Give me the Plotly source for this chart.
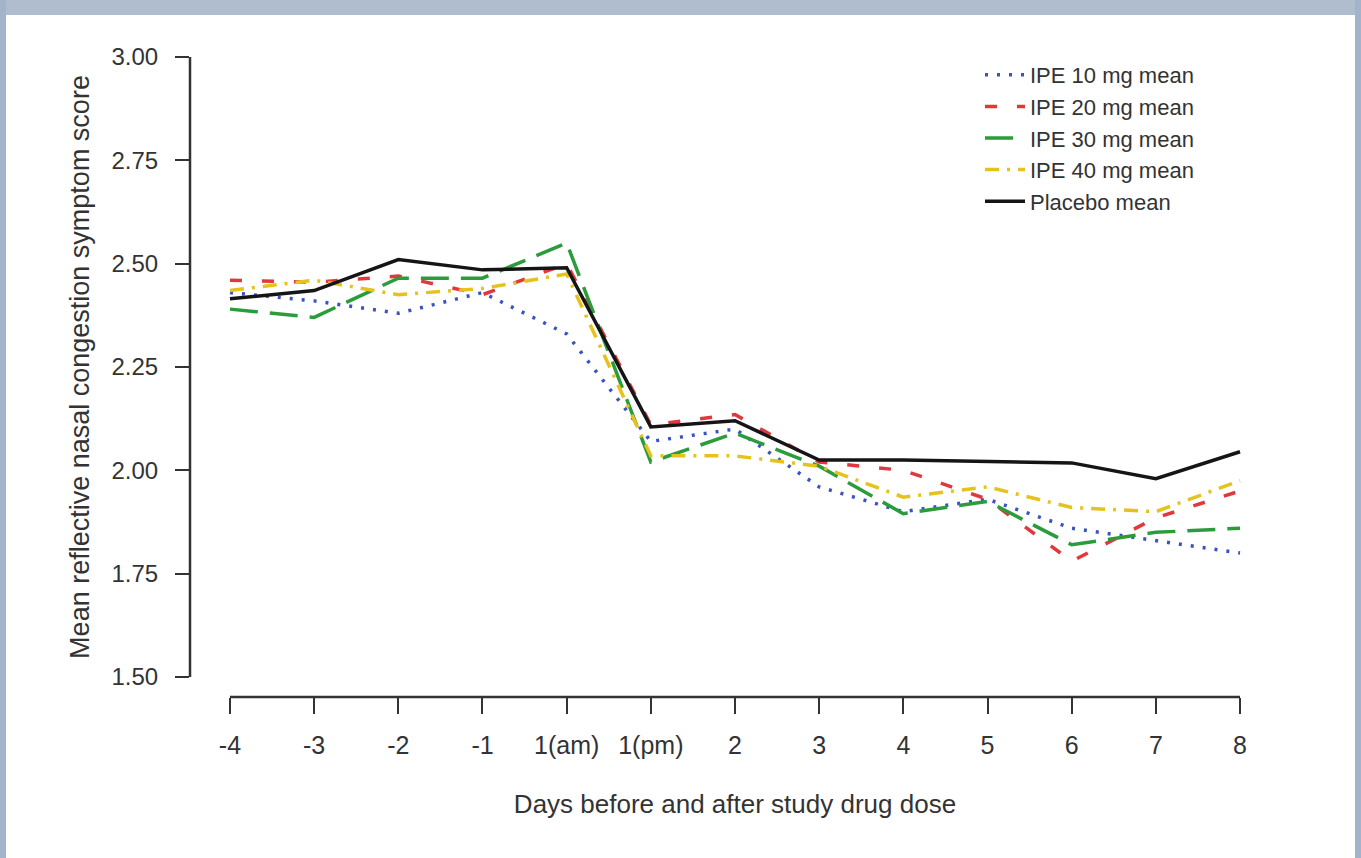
import plotly.graph_objects as go

# ---- data ----
days = ["-4", "-3", "-2", "-1", "1(am)", "1(pm)", "2", "3", "4", "5", "6", "7", "8"]
ipe10 = [2.43, 2.41, 2.38, 2.43, 2.33, 2.07, 2.10, 1.96, 1.90, 1.93, 1.86, 1.83, 1.80]
ipe20 = [2.46, 2.455, 2.47, 2.425, 2.50, 2.11, 2.135, 2.02, 2.00, 1.93, 1.78, 1.885, 1.95]
ipe30 = [2.39, 2.37, 2.465, 2.465, 2.55, 2.02, 2.09, 2.01, 1.895, 1.925, 1.82, 1.85, 1.86]
ipe40 = [2.435, 2.46, 2.425, 2.44, 2.475, 2.035, 2.035, 2.01, 1.935, 1.96, 1.91, 1.90, 1.975]
placebo = [2.415, 2.435, 2.51, 2.485, 2.49, 2.105, 2.12, 2.025, 2.025, 2.022, 2.018, 1.98, 2.045]
y_ticks = [1.50, 1.75, 2.00, 2.25, 2.50, 2.75, 3.00]
y_ticktext = ["1.50", "1.75", "2.00", "2.25", "2.50", "2.75", "3.00"]

series = [
    ("IPE 10 mg mean", ipe10, "#3a52c4", "3px,9px"),
    ("IPE 20 mg mean", ipe20, "#e0383c", "12px,20px"),
    ("IPE 30 mg mean", ipe30, "#2b9c3c", "28px,12px"),
    ("IPE 40 mg mean", ipe40, "#e6c31c", "14px,8px,3px,8px"),
    ("Placebo mean", placebo, "#151515", "solid"),
]

# ---- layout geometry ----
W, H = 1361, 858
L, R, T, B = 190, 81, 37, 161
pw, ph = W - L - R, H - T - B
y_pad = 20 * (y_ticks[-1] - y_ticks[0]) / 620.0


def px(x):
    return (x - L) / pw


def py(y):
    return (H - B - y) / ph


FONT = "Liberation Sans, Arial, sans-serif"
TXT = "#333333"

fig = go.Figure()
for name, vals, color, dash in series:
    fig.add_trace(go.Scatter(
        x=days, y=vals, mode="lines", name=name,
        line=dict(color=color, width=3.5, dash=dash),
    ))

# R-style detached axis lines
fig.add_shape(type="line", xref="paper", yref="y", x0=0, x1=0,
              y0=y_ticks[0], y1=y_ticks[-1], line=dict(color="#333333", width=2.5))
fig.add_shape(type="line", xref="x", yref="paper", x0=0, x1=len(days) - 1,
              y0=0, y1=0, line=dict(color="#333333", width=2.5))

# frame strips (blue-grey border of the picture)
fig.add_shape(type="rect", xref="paper", yref="paper", x0=px(0), x1=px(W),
              y0=py(15), y1=py(0), fillcolor="#b0bdcf", line=dict(width=0), layer="below")
fig.add_shape(type="rect", xref="paper", yref="paper", x0=px(0), x1=px(6),
              y0=py(H), y1=py(0), fillcolor="#a3b3c9", line=dict(width=0), layer="below")
fig.add_shape(type="rect", xref="paper", yref="paper", x0=px(W - 6), x1=px(W),
              y0=py(H), y1=py(0), fillcolor="#a3b3c9", line=dict(width=0), layer="below")

fig.update_layout(
    width=W, height=H,
    margin=dict(l=L, r=R, t=T, b=B, autoexpand=False),
    paper_bgcolor="white", plot_bgcolor="white",
    font=dict(family=FONT, color=TXT, size=24),
    showlegend=True,
    legend=dict(
        x=px(980), y=py(54), xanchor="left", yanchor="top",
        bgcolor="rgba(0,0,0,0)", font=dict(size=22, color=TXT, family=FONT),
        itemwidth=40, tracegroupgap=0,
    ),
    xaxis=dict(
        type="category", categoryorder="array", categoryarray=days,
        range=[-0.475, len(days) - 1 + 0.475], showgrid=False, zeroline=False, showline=False,
        ticks="outside", ticklen=16, tickwidth=2, tickcolor="#333333",
        tickfont=dict(size=25, color=TXT), ticklabelstandoff=10,
        title=dict(text="Days before and after study drug dose",
                   font=dict(size=26, color=TXT), standoff=36),
        fixedrange=True,
    ),
    yaxis=dict(
        range=[y_ticks[0] - y_pad, y_ticks[-1] + y_pad],
        tickvals=y_ticks, ticktext=y_ticktext,
        showgrid=False, zeroline=False, showline=False,
        ticks="outside", ticklen=14, tickwidth=2, tickcolor="#333333",
        tickfont=dict(size=24, color=TXT), ticklabelstandoff=12,
        title=dict(text="Mean reflective nasal congestion symptom score",
                   font=dict(size=27, color=TXT), standoff=14),
        fixedrange=True,
    ),
)

fig.write_html("out.html", config={"displayModeBar": False},
               post_script="document.body.style.margin='0';")
